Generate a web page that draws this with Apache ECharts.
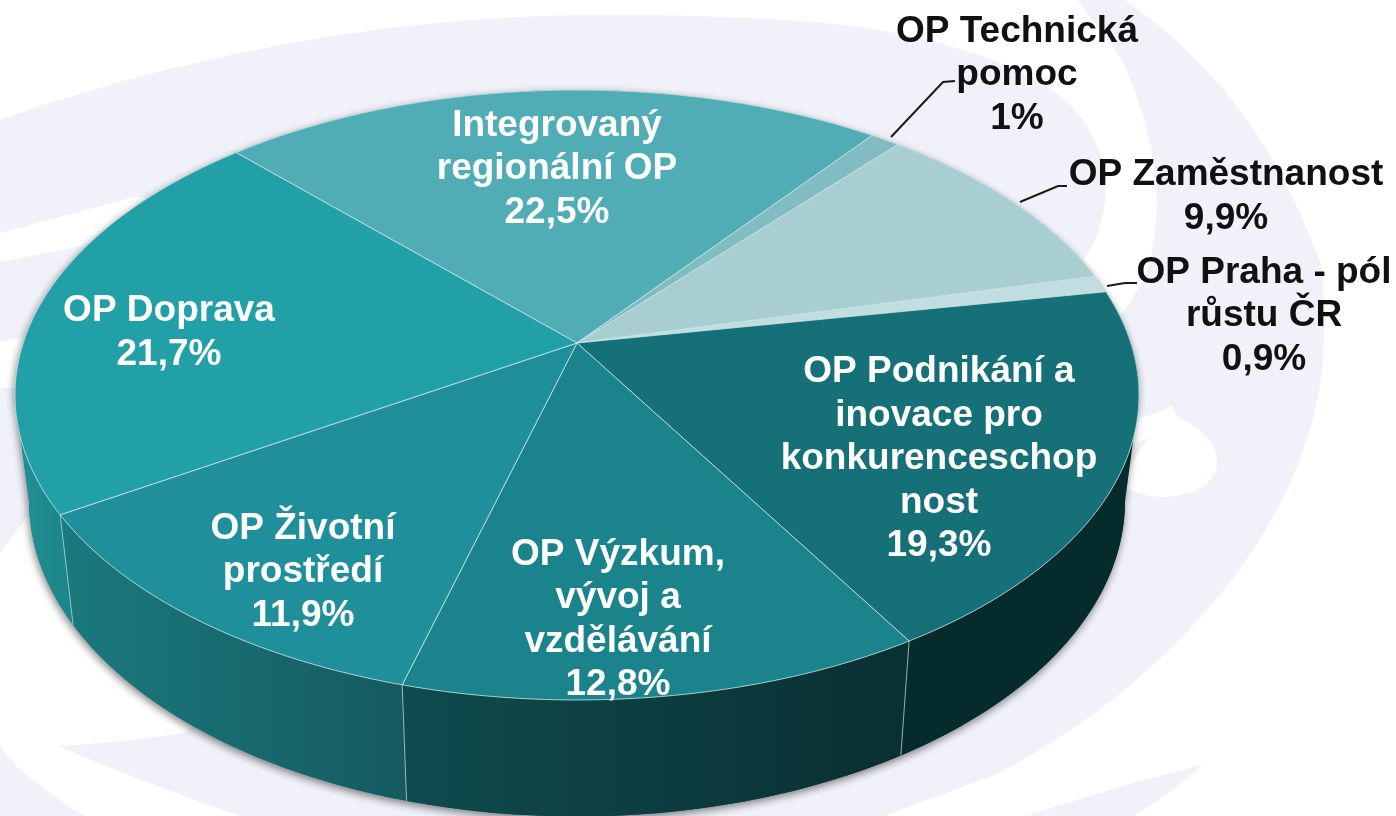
<!DOCTYPE html>
<html>
<head>
<meta charset="utf-8">
<title>OP podíly</title>
<script src="https://cdn.jsdelivr.net/npm/echarts@6/dist/echarts.min.js"></script>
<style>
  html, body { margin: 0; padding: 0; background: #fff; }
  #main { width: 1396px; height: 816px; }
</style>
</head>
<body>
<div id="main"></div>
<script>
// values, clockwise from the Integrovany / Doprava edge
var categories = [
  'Integrovaný\nregionální OP',
  'OP Technická\npomoc',
  'OP Zaměstnanost',
  'OP Praha - pól\nrůstu ČR',
  'OP Podnikání a\ninovace pro\nkonkurenceschop\nnost',
  'OP Výzkum,\nvývoj a\nvzdělávání',
  'OP Životní\nprostředí',
  'OP Doprava'
];
var shares = [22.5, 1, 9.9, 0.9, 19.3, 12.8, 11.9, 21.7];

// styles
var topColors = ['#51adb5', '#80bcc2', '#a9ced2', '#c1dde0', '#167078', '#1a838b', '#1f909b', '#22a0a8'];
var wallColors = [null, null, null, null, ['#062b2c', '#062b2c'], ['#0f4b4f', '#0a2f31'], ['#1a7a7d', '#155a60'], ['#1f8f93', '#1c8589']];
var labelCenters = [[557, 169], [1017, 75], [1226, 197], [1264, 316], [939, 459], [618, 620], [303, 572], [169, 333]];
var leaderLines = [null, [[891, 137], [943, 82], [955, 81]], [[1020, 202], [1058, 186], [1067, 186]], [[1107, 286], [1125, 283], [1137, 283]], null, null, null, null];
var bgPaths = [
  'M0,120 C170,60 380,15 600,15 C700,15 790,18 860,27 C950,40 1040,70 1075,110 C1105,145 1112,190 1100,225 C1095,245 1087,255 1081,263 L800,400 L27,517 L0,553 Z',
  'M1077,0 L1125,0 C1205,57 1274,133 1322,267 C1325,300 1325,340 1322,373 C1305,490 1240,590 1133,683 C1090,720 1040,750 1000,773 L884,816 L240,816 C170,792 110,768 58,746 C100,744 140,739 183,733 L500,500 L1119,317 C1135,295 1146,280 1150,260 C1165,200 1155,133 1122,60 Z',
  'M0,745 C10,760 20,770 33,780 C48,792 66,805 85,816 L0,816 Z',
  'M1202,765 C1150,778 1090,795 1027,816 L1133,816 C1160,800 1180,785 1202,765 Z'
];
var bgWhitePaths = [
  'M0,233 L134,197 L200,200 L77,247 L0,262 Z',
  'M0,342 L23,337 L60,340 L15,388 L0,388 Z',
  'M1130,420 C1150,416 1165,411 1172,405 C1175,415 1180,420 1187,422 C1205,430 1217,447 1217,463 C1217,480 1200,495 1165,497 C1150,497 1135,493 1120,485 Z'
];
var bgWedge = 'M1150,437 C1142,447 1136,455 1130,465 L1120,450 Z';

// the tilted disc: unit circle -> screen through a perspective map
var cx = 577, cy = 343, ax = 553.8, ay = 296.1, persp = 0.1705;
var startDeg = -43.75;
var drop = 104, bottomScaleX = 0.975, bottomScaleY = 1.035;

function ringPoint(deg, bottom) {
  var a = deg * Math.PI / 180;
  var u = Math.sin(a), v = Math.cos(a);
  var w = 1 + persp * v;
  var x = ax * u / w, y = -ay * v / w;
  if (bottom) return [cx + x * bottomScaleX, cy + drop + y * bottomScaleY];
  return [cx + x, cy + y];
}

function arc(from, to, bottom) {
  var pts = [];
  var n = Math.max(2, Math.ceil(Math.abs(to - from)));
  for (var i = 0; i <= n; i++) {
    pts.push(ringPoint(from + (to - from) * i / n, bottom));
  }
  return pts;
}

var total = 0;
shares.forEach(function (s) { total += s; });

function sliceRange(idx) {
  var before = 0;
  for (var i = 0; i < idx; i++) before += shares[i];
  return [startDeg + before / total * 360, startDeg + (before + shares[idx]) / total * 360];
}

function fmt(v) {
  return String(v).replace('.', ',') + '%';
}

var seriesData = shares.map(function (s) { return [s]; });

function renderBackdrop() {
  var kids = [];
  bgPaths.forEach(function (d) {
    kids.push({ type: 'path', shape: { pathData: d }, style: { fill: '#f0f1f9' } });
  });
  bgWhitePaths.forEach(function (d) {
    kids.push({ type: 'path', shape: { pathData: d }, style: { fill: '#ffffff' } });
  });
  kids.push({ type: 'path', shape: { pathData: bgWedge }, style: { fill: '#f0f1f9' } });
  return { type: 'group', children: kids };
}

function renderWall(params, api) {
  var idx = params.dataIndex;
  var kids = [];
  if (idx === 0) {
    // outline of the whole solid, only to throw the soft shadow
    kids.push({
      type: 'polygon',
      shape: { points: arc(100, 260, true).concat(arc(260, 460, false)) },
      style: {
        fill: {
          type: 'linear', x: 0, y: 0, x2: 1, y2: 0,
          colorStops: [{ offset: 0, color: '#1f8f93' }, { offset: 0.5, color: '#0f4b4f' }, { offset: 1, color: '#062b2c' }]
        },
        shadowBlur: 9, shadowColor: 'rgba(0,0,0,0.5)', shadowOffsetX: -1, shadowOffsetY: 3
      }
    });
  }
  if (!wallColors[idx]) return { type: 'group', children: kids };
  var r = sliceRange(idx);
  var from = r[0], to = Math.min(r[1], 260.2);
  var pts = arc(from, to, false).concat(arc(to, from, true));
  kids.push({
    type: 'polygon',
    shape: { points: pts },
    style: {
      // wall runs right to left on screen, so the gradient is lighter at the left
      fill: {
        type: 'linear', x: 0, y: 0, x2: 1, y2: 0,
        colorStops: [{ offset: 0, color: wallColors[idx][0] }, { offset: 1, color: wallColors[idx][1] }]
      }
    }
  });
  if (from > 100) {
    var a = ringPoint(from, false), b = ringPoint(from, true);
    kids.push({
      type: 'line',
      shape: { x1: a[0], y1: a[1], x2: b[0], y2: b[1] },
      style: { stroke: 'rgba(190,220,220,0.75)', lineWidth: 1 }
    });
  }
  return { type: 'group', children: kids };
}

function renderTop(params, api) {
  var idx = params.dataIndex;
  var r = sliceRange(idx);
  return {
    type: 'polygon',
    shape: { points: [[cx, cy]].concat(arc(r[0], r[1], false)) },
    style: { fill: topColors[idx], stroke: 'rgba(205,232,232,0.8)', lineWidth: 1, lineJoin: 'round' }
  };
}

function renderLabel(params, api) {
  var idx = params.dataIndex;
  var c = labelCenters[idx];
  var outside = !!leaderLines[idx];
  var kids = [];
  if (outside) {
    kids.push({
      type: 'polyline',
      shape: { points: leaderLines[idx] },
      style: { stroke: '#1a1a1a', lineWidth: 2, fill: null }
    });
  }
  kids.push({
    type: 'text',
    x: c[0],
    y: c[1],
    style: {
      text: categories[idx] + '\n' + fmt(api.value(0)),
      fill: outside ? '#111111' : '#ffffff',
      font: 'bold 37px "Liberation Sans", Arial, sans-serif',
      lineHeight: 43.5,
      align: 'center',
      verticalAlign: 'middle'
    }
  });
  return { type: 'group', children: kids };
}

var myChart = echarts.init(document.getElementById('main'), null, { renderer: 'canvas' });

var option = {
  animation: false,
  backgroundColor: '#ffffff',
  series: [
    { type: 'custom', name: 'backdrop', coordinateSystem: 'none', silent: true, z: 1, data: [[0]], renderItem: renderBackdrop },
    { type: 'custom', name: 'walls', coordinateSystem: 'none', silent: true, z: 2, data: seriesData, renderItem: renderWall },
    { type: 'custom', name: 'tops', coordinateSystem: 'none', silent: true, z: 3, data: seriesData, renderItem: renderTop },
    { type: 'custom', name: 'labels', coordinateSystem: 'none', silent: true, z: 4, data: seriesData, renderItem: renderLabel }
  ]
};

myChart.setOption(option);
</script>
</body>
</html>
